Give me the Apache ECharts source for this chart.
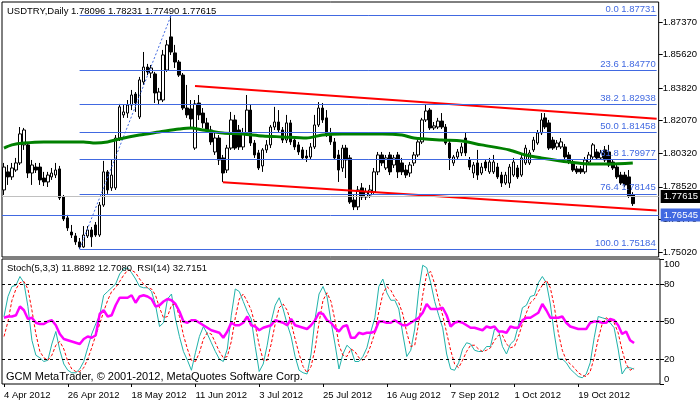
<!DOCTYPE html>
<html><head><meta charset="utf-8">
<script src="https://cdn.jsdelivr.net/npm/echarts@6/dist/echarts.min.js"></script>
<style>html,body{margin:0;padding:0;background:#fff}#c{width:700px;height:402px}</style>
</head><body><div id="c"></div>
<script>
// ---- data ----
const dateLabels = ['4 Apr 2012','26 Apr 2012','18 May 2012','11 Jun 2012','3 Jul 2012','25 Jul 2012','16 Aug 2012','7 Sep 2012','1 Oct 2012','19 Oct 2012'];

const opens = [
1.7835,1.7932,1.7905,1.7942,1.7980,1.8077,1.8077,1.7926,1.7958,1.7958,
1.7899,1.7878,1.7905,1.7915,1.7948,1.7797,1.7685,1.7609,1.7588,1.7556,
1.7529,1.7588,1.7620,1.7647,1.7593,1.7754,1.7932,1.7846,1.7846,1.8114,
1.8238,1.8248,1.8291,1.8350,1.8227,1.8415,1.8495,1.8463,1.8458,1.8318,
1.8318,1.8479,1.8657,1.8571,1.8522,1.8452,1.8275,1.8270,1.8060,1.8302,
1.8248,1.8195,1.8157,1.8039,1.8114,1.8007,1.7942,1.8060,1.8211,1.8157,
1.8066,1.8141,1.8264,1.8087,1.8034,1.7964,1.8050,1.8077,1.8173,1.8200,
1.8157,1.8103,1.8195,1.8103,1.8077,1.8050,1.8017,1.8012,1.8066,1.8184,
1.8275,1.8222,1.8141,1.8093,1.8023,1.7953,1.8060,1.8007,1.7781,1.7744,
1.7846,1.7797,1.7808,1.7824,1.7932,1.8023,1.7953,1.8023,1.7969,1.8023,
1.7980,1.7942,1.7926,1.7980,1.8023,1.8093,1.8211,1.8264,1.8168,1.8173,
1.8205,1.8173,1.8087,1.7980,1.8012,1.8034,1.8114,1.7996,1.7926,1.7980,
1.7926,1.7985,1.7932,1.7932,1.7958,1.7915,1.7872,1.7872,1.7915,1.7953,
1.7915,1.7980,1.7980,1.8050,1.8087,1.8141,1.8222,1.8195,1.8103,1.8066,
1.8066,1.8066,1.8023,1.7985,1.7948,1.7948,1.7932,1.7985,1.8012,1.8039,
1.8007,1.8050,1.8039,1.7985,1.7958,1.7915,1.7915,1.7905,1.78096];
const closes = [
1.7958,1.7905,1.7953,1.7980,1.8136,1.8157,1.7926,1.7969,1.7942,1.7889,
1.7878,1.7915,1.7926,1.7942,1.7792,1.7679,1.7631,1.7593,1.7556,1.7529,
1.7593,1.7620,1.7583,1.7593,1.7754,1.7932,1.7835,1.7915,1.8114,1.8281,
1.8254,1.8291,1.8345,1.8302,1.8426,1.8495,1.8469,1.8490,1.8356,1.8361,
1.8560,1.8614,1.8576,1.8522,1.8452,1.8275,1.8238,1.8216,1.8297,1.8238,
1.8195,1.8157,1.8093,1.8114,1.7996,1.7926,1.8060,1.8211,1.8060,1.8066,
1.8141,1.8264,1.8087,1.8023,1.7953,1.8050,1.8077,1.8173,1.8200,1.8157,
1.8103,1.8195,1.8093,1.8066,1.8039,1.8007,1.8007,1.8066,1.8184,1.8275,
1.8211,1.8130,1.8093,1.8007,1.7942,1.8060,1.7996,1.7770,1.7744,1.7835,
1.7797,1.7824,1.7835,1.7932,1.8023,1.7980,1.8007,1.7932,1.8007,1.7932,
1.7932,1.7915,1.7969,1.8023,1.8093,1.8211,1.8259,1.8168,1.8179,1.8205,
1.8173,1.8087,1.8007,1.8012,1.8039,1.8066,1.8034,1.7958,1.7969,1.7915,
1.7958,1.7953,1.7985,1.7985,1.7905,1.7872,1.7915,1.7958,1.7985,1.7905,
1.8007,1.8060,1.8034,1.8103,1.8141,1.8211,1.8173,1.8060,1.8060,1.8087,
1.8093,1.8012,1.7985,1.7942,1.7932,1.7932,1.7996,1.8023,1.8077,1.8007,
1.8034,1.7996,1.7969,1.7953,1.7905,1.7872,1.7862,1.7803,1.77615];
const lows = [
1.7808,1.7862,1.7889,1.7932,1.7969,1.8050,1.7899,1.7862,1.7926,1.7862,
1.7856,1.7851,1.7889,1.7899,1.7781,1.7668,1.7615,1.7577,1.7540,1.75184,
1.7524,1.7577,1.7529,1.7583,1.7583,1.7744,1.7814,1.7830,1.7835,1.8098,
1.8222,1.8222,1.8264,1.8254,1.8216,1.8399,1.8452,1.8436,1.8302,1.8291,
1.8307,1.8469,1.8560,1.8490,1.8442,1.8264,1.8222,1.8168,1.8050,1.8211,
1.8168,1.8141,1.8077,1.8023,1.7969,1.7878,1.7926,1.8050,1.8050,1.8050,
1.8050,1.8125,1.8071,1.8007,1.7942,1.7932,1.8034,1.8060,1.8157,1.8141,
1.8087,1.8087,1.8077,1.8050,1.8023,1.7996,1.7985,1.7996,1.8055,1.8173,
1.8195,1.8120,1.8077,1.7996,1.7878,1.7932,1.7899,1.7760,1.7727,1.7727,
1.7781,1.7781,1.7792,1.7814,1.7915,1.7964,1.7942,1.7915,1.7953,1.7899,
1.7915,1.7899,1.7905,1.7964,1.8012,1.8082,1.8200,1.8157,1.8157,1.8162,
1.8162,1.8077,1.7942,1.7964,1.7996,1.8017,1.8017,1.7942,1.7899,1.7889,
1.7915,1.7937,1.7921,1.7921,1.7894,1.7851,1.7862,1.7846,1.7905,1.7894,
1.7905,1.7969,1.7969,1.8039,1.8077,1.8130,1.8162,1.8050,1.8050,1.8050,
1.8055,1.8001,1.7974,1.7932,1.7921,1.7921,1.7921,1.7974,1.8001,1.7996,
1.7996,1.7985,1.7958,1.7942,1.7894,1.7862,1.7851,1.7792,1.77490];
const highs = [
1.7980,1.7969,1.7980,1.8007,1.8173,1.8168,1.8087,1.7996,1.7980,1.7980,
1.7932,1.7932,1.7953,1.7980,1.7964,1.7808,1.7701,1.7647,1.7604,1.7577,
1.7641,1.7641,1.7636,1.7663,1.7770,1.7991,1.7942,1.7996,1.8130,1.8297,
1.8291,1.8318,1.8372,1.8361,1.8442,1.8576,1.8512,1.8506,1.8469,1.8383,
1.8587,1.8640,1.87731,1.8614,1.8533,1.8463,1.8399,1.8318,1.8318,1.8345,
1.8275,1.8222,1.8179,1.8141,1.8130,1.8023,1.8077,1.8254,1.8238,1.8184,
1.8168,1.8345,1.8291,1.8103,1.8050,1.8060,1.8103,1.8184,1.8281,1.8264,
1.8173,1.8238,1.8211,1.8120,1.8093,1.8066,1.8050,1.8087,1.8238,1.8307,
1.8302,1.8264,1.8168,1.8114,1.8050,1.8077,1.8077,1.8023,1.7808,1.7856,
1.7872,1.7846,1.7862,1.7953,1.8039,1.8039,1.8023,1.8039,1.8023,1.8039,
1.8007,1.7969,1.7985,1.8039,1.8103,1.8222,1.8291,1.8275,1.8200,1.8222,
1.8248,1.8189,1.8103,1.8023,1.8055,1.8087,1.8146,1.8012,1.7985,1.8050,
1.7980,1.8001,1.8007,1.8023,1.7980,1.7932,1.7932,1.7974,1.8007,1.7969,
1.8023,1.8077,1.8050,1.8120,1.8157,1.8248,1.8248,1.8211,1.8120,1.8103,
1.8114,1.8082,1.8039,1.8001,1.7964,1.7964,1.8012,1.8039,1.8087,1.8055,
1.8050,1.8071,1.8077,1.8001,1.7974,1.7932,1.7932,1.7942,1.78231];

const maBars   = [0,2,5,10,20,23,26,29,34,39,44,47,50,55,60,65,70,76,80,85,95,100,103,110,115,120,127,131,135,142,148,152,158];
const maValues = [1.8060,1.8077,1.8087,1.8093,1.8093,1.8087,1.8093,1.8109,1.8130,1.8146,1.8162,1.8168,1.8157,1.8141,1.8136,1.8125,1.8120,1.8114,1.8130,1.8136,1.8136,1.8130,1.8114,1.8103,1.8098,1.8077,1.8050,1.8023,1.8007,1.7985,1.7974,1.7974,1.7980];

const stochMain = [
54,70,78,79,86,81,62,35,23,21,
18,19,32,42,27,16,11,9,9,12,
18,29,40,48,55,71,74,77,80,88,
92,93,89,84,78,77,77,74,63,46,
49,68,72,52,38,26,19,11,25,38,
46,40,33,26,20,18,28,55,76,74,
66,58,52,30,10,16,31,50,63,69,
60,48,38,22,11,9,8,24,52,72,
78,70,50,32,12,24,31,28,18,18,
22,29,42,53,78,84,73,67,67,60,
40,22,27,44,75,95,93,81,66,55,
45,24,12,11,17,28,33,32,27,26,
26,30,30,44,43,30,24,32,35,47,
61,63,70,71,81,86,81,64,40,20,
20,17,12,9,6,5,8,17,37,54,
53,52,49,45,28,8,13,13,11.8892];
const stochSignal = [
38,50,67,76,81,82,76,59,40,26,
21,19,23,31,34,28,18,12,10,10,
13,20,29,39,48,58,67,74,77,82,
87,91,91,89,84,80,77,76,71,61,
53,54,63,64,54,39,28,19,18,25,
36,41,40,33,26,21,22,34,53,68,
72,66,59,47,31,19,19,32,48,61,
64,59,49,36,24,14,9,14,28,49,
67,73,66,51,31,23,22,28,26,21,
19,23,31,41,58,72,78,75,69,65,
56,41,30,31,49,71,88,90,80,67,
55,41,27,16,13,19,26,31,31,28,
26,27,29,35,39,39,32,29,30,38,
48,57,65,68,74,79,83,77,62,41,
27,19,16,13,9,7,6,10,21,36,
48,53,51,49,41,27,16,11,12.7080];
const rsi = [
53,54,54,55,62,59,52,53,49,48,
48,50,51,47,40,36,35,34,33,32,
36,38,37,39,56,59,54,55,63,69,
69,69,71,65,70,71,70,68,62,63,
66,68,67,64,58,50,49,51,51,49,
47,45,43,42,41,37,42,49,47,47,
49,54,47,46,43,45,46,47,51,50,
49,47,52,47,46,45,44,47,51,57,
56,51,49,45,42,46,47,37,37,41,
40,41,41,42,50,50,49,49,51,49,
47,47,49,51,53,57,64,60,60,60,
61,55,46,49,50,49,47,45,45,44,
43,46,45,46,42,42,41,46,45,45,
51,53,53,55,57,64,59,53,53,53,
54,49,46,45,44,44,44,49,50,50,
49,49,52,51,47,40,42,35,32.7151];

const fibLevels = [0, 23.6, 38.2, 50.0, 61.8, 76.4, 100.0];
const fibPrices = [1.87731, 1.84770, 1.82938, 1.81458, 1.79977, 1.78145, 1.75184];
const fibAnchorBars = [19, 42];           // low bar, high bar
const upperTrend = [[48, 1.8393], [164, 1.8217]];
const lowerTrend = [[55, 1.7876], [164, 1.7724]];
const priceTicks = [1.87370, 1.85620, 1.83820, 1.82070, 1.80320, 1.78520, 1.76770, 1.75020];
const oscTicks = [0, 20, 50, 80, 100];
const oscLevels = [20, 50, 80];
const bidPrice = 1.77615;
const hLinePrice = 1.76545;
const titleText = 'USDTRY,Daily 1.78096 1.78231 1.77490 1.77615';
const oscTitle = 'Stoch(5,3,3) 11.8892 12.7080  RSI(14) 32.7151';
const footer = 'GCM MetaTrader, \u00A9 2001-2012, MetaQuotes Software Corp.';

// ---- chart ----
const FONT = 'Liberation Sans';
const SLOTS = 165;
const slots = Array.from({length: SLOTS}, (_, i) => String(i));
const lastSlot = SLOTS - 1;
const candles = opens.map((o, i) => [o, closes[i], lows[i], highs[i]]);
const BLUE = '#4169E1';

const fibMarks = fibPrices.map((p, k) => [
  {coord: [fibAnchorBars[0], p],
   lineStyle: {color: BLUE, width: 1, type: 'solid'},
   label: {show: true, position: 'insideEndTop', distance: 1,
           formatter: fibLevels[k].toFixed(1) + ' ' + p.toFixed(5),
           color: BLUE, fontSize: 9.5, fontFamily: FONT}},
  {coord: [lastSlot, p]}
]);

const chart = echarts.init(document.getElementById('c'), null, {width: 700, height: 402});
chart.setOption({
  animation: false,
  backgroundColor: '#fff',
  textStyle: {fontFamily: FONT},
  title: [
    {text: titleText, left: 7, top: 6, padding: 0,
     textStyle: {fontSize: 9.5, fontWeight: 'normal', color: '#000', fontFamily: FONT}},
    {text: oscTitle, left: 7, top: 263, padding: 0,
     textStyle: {fontSize: 9.5, fontWeight: 'normal', color: '#000', fontFamily: FONT}},
    {text: footer, left: 6, top: 371, padding: 0,
     textStyle: {fontSize: 11, fontWeight: 'normal', color: '#000', fontFamily: FONT}}
  ],
  grid: [
    {left: 2, top: 2, width: 658, height: 255, show: true, borderColor: '#000', borderWidth: 1, backgroundColor: 'transparent'},
    {left: 2, top: 259, width: 658, height: 125, show: true, borderColor: '#000', borderWidth: 1, backgroundColor: 'transparent'}
  ],
  xAxis: [
    {type: 'category', gridIndex: 0, data: slots, boundaryGap: true,
     axisLine: {show: false}, axisTick: {show: false}, axisLabel: {show: false}, splitLine: {show: false}},
    {type: 'category', gridIndex: 1, data: slots, boundaryGap: true, position: 'bottom',
     axisLine: {show: false},
     axisTick: {show: true, alignWithLabel: true, length: 3, interval: (i) => i % 16 === 0 && i / 16 < dateLabels.length, lineStyle: {color: '#000'}},
     axisLabel: {show: true, interval: (i) => i % 16 === 0 && i / 16 < dateLabels.length,
                 formatter: (v, i) => dateLabels[i / 16] || '', align: 'left', margin: 6,
                 fontSize: 9.5, color: '#000', fontFamily: FONT},
     splitLine: {show: false}}
  ],
  yAxis: [
    {type: 'value', gridIndex: 0, position: 'right', min: 1.74749, max: 1.88444, scale: true,
     axisLine: {show: false}, splitLine: {show: false},
     axisTick: {show: true, length: 4, customValues: priceTicks, lineStyle: {color: '#000'}},
     axisLabel: {show: true, customValues: priceTicks, formatter: (v) => v.toFixed(5), margin: 4,
                 fontSize: 9.5, color: '#000', fontFamily: FONT}},
    {type: 'value', gridIndex: 1, position: 'right', min: 0, max: 100,
     axisLine: {show: false}, splitLine: {show: false},
     axisTick: {show: true, length: 4, customValues: oscTicks, lineStyle: {color: '#000'}},
     axisLabel: {show: true, customValues: oscTicks, margin: 4, fontSize: 9.5, color: '#000', fontFamily: FONT,
                 verticalAlignMinLabel: 'bottom', verticalAlignMaxLabel: 'top'}}
  ],
  series: [
    {type: 'candlestick', xAxisIndex: 0, yAxisIndex: 0, data: candles, barWidth: 3,
     itemStyle: {color: '#fff', color0: '#000', borderColor: '#000', borderColor0: '#000', borderColorDoji: '#000', borderWidth: 1},
     markLine: {silent: true, symbol: ['none', 'none'], animation: false,
       data: [
         ...fibMarks,
         {yAxis: bidPrice, lineStyle: {color: '#C0C0C0', width: 1, type: 'solid'},
          label: {show: true, position: 'end', distance: 2, formatter: bidPrice.toFixed(5),
                  backgroundColor: '#000', color: '#fff', padding: [2, 3, 1, 3], fontSize: 9.5, fontFamily: FONT}},
         {yAxis: hLinePrice, lineStyle: {color: BLUE, width: 1, type: 'solid'},
          label: {show: true, position: 'end', distance: 2, formatter: hLinePrice.toFixed(5),
                  backgroundColor: BLUE, color: '#fff', padding: [2, 3, 1, 3], fontSize: 9.5, fontFamily: FONT}}
       ]}},
    {type: 'line', name: 'fibTrend', xAxisIndex: 0, yAxisIndex: 0, symbol: 'none',
     data: [[fibAnchorBars[0], fibPrices[6]], [fibAnchorBars[1], fibPrices[0]]],
     lineStyle: {color: BLUE, width: 1, type: [2, 2]}},
    {type: 'line', name: 'MA', xAxisIndex: 0, yAxisIndex: 0, symbol: 'none', smooth: 0.3,
     data: maBars.map((b, k) => [b, maValues[k]]),
     lineStyle: {color: '#008000', width: 3}},
    {type: 'line', name: 'upper', xAxisIndex: 0, yAxisIndex: 0, symbol: 'none',
     data: upperTrend, lineStyle: {color: '#FF0000', width: 2}},
    {type: 'line', name: 'lower', xAxisIndex: 0, yAxisIndex: 0, symbol: 'none',
     data: lowerTrend, lineStyle: {color: '#FF0000', width: 2}},
    {type: 'line', name: 'stoch', xAxisIndex: 1, yAxisIndex: 1, symbol: 'none', data: stochMain,
     lineStyle: {color: '#20B2AA', width: 1},
     markLine: {silent: true, symbol: ['none', 'none'], label: {show: false},
       lineStyle: {color: '#000', width: 1, type: [3, 3]},
       data: oscLevels.map((v) => ({yAxis: v}))}},
    {type: 'line', name: 'signal', xAxisIndex: 1, yAxisIndex: 1, symbol: 'none', data: stochSignal,
     lineStyle: {color: '#FF0000', width: 1, type: [3, 2]}},
    {type: 'line', name: 'rsi', xAxisIndex: 1, yAxisIndex: 1, symbol: 'none', data: rsi,
     lineStyle: {color: '#FF00FF', width: 2.5}}
  ]
});
</script>
</body></html>
